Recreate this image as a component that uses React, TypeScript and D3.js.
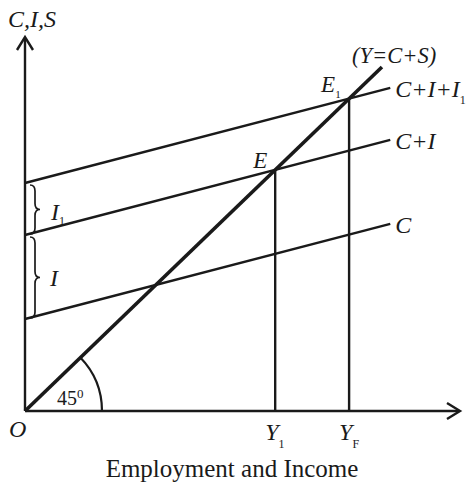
import React from "react";
import * as d3 from "d3";

// Data (model units)
const scheduleNames = ["C", "C+I", "C+I+I"];
const scheduleSubs = ["", "", "1"];
const intercepts = [23, 44, 57];
const mpc = 0.27;
const scheduleEnd = 88;
const diagonalEnd = 86;
const equilibriumLabels = ["E", "E"];
const equilibriumSubs = ["", "1"];
const incomeLabels = ["Y", "Y"];
const incomeSubs = ["1", "F"];
const braceLabels = ["I", "I"];
const braceSubs = ["1", ""];

const W = 470;
const H = 484;

export default function App() {
  const x = d3.scaleLinear().domain([0, 104.8]).range([25, 460]);
  const y = d3.scaleLinear().domain([0, 93.5]).range([411, 37]);
  const line = d3
    .line<[number, number]>()
    .x((d) => x(d[0]))
    .y((d) => y(d[1]));

  // equilibrium incomes for C+I and C+I+I1
  const eqX = [intercepts[1] / (1 - mpc), intercepts[2] / (1 - mpc)];

  const serif = "'Liberation Serif', 'Times New Roman', serif";
  const stroke = "#1a1a1a";

  const brace = (x0: number, y1: number, y2: number, w: number) => {
    const mid = (y1 + y2) / 2;
    const q = 6;
    const xm = x0 + w / 2;
    return `M${x0},${y1} Q${xm},${y1} ${xm},${y1 + q} L${xm},${mid - q} Q${xm},${mid} ${x0 + w},${mid} Q${xm},${mid} ${xm},${mid + q} L${xm},${y2 - q} Q${xm},${y2} ${x0},${y2}`;
  };

  const arcR = 77;
  const ox = x(0);
  const oy = y(0);
  const arcPath = `M${ox + arcR},${oy} A${arcR},${arcR} 0 0 0 ${ox + arcR * Math.cos(Math.PI / 4 * 0.985)},${oy - arcR * Math.sin(Math.PI / 4 * 0.985)}`;

  return (
    <svg
      width={W}
      height={H}
      style={{ position: "absolute", left: 0, top: 0, background: "#fff" }}
      fontFamily={serif}
    >
      {/* axes */}
      <line x1={x(0)} y1={y(0)} x2={x(0)} y2={y(93.5) + 1} stroke={stroke} strokeWidth={2.4} />
      <line x1={x(0)} y1={y(0)} x2={x(104.8) - 1} y2={y(0)} stroke={stroke} strokeWidth={2.4} />
      <path
        d={`M${x(0) - 8},${y(93.5) + 13} L${x(0)},${y(93.5)} L${x(0) + 8},${y(93.5) + 13}`}
        fill="none"
        stroke={stroke}
        strokeWidth={2.4}
      />
      <path
        d={`M${x(104.8) - 13},${y(0) - 8} L${x(104.8)},${y(0)} L${x(104.8) - 13},${y(0) + 8}`}
        fill="none"
        stroke={stroke}
        strokeWidth={2.4}
      />

      {/* schedules */}
      {intercepts.map((a, i) => (
        <path
          key={i}
          d={line([
            [0, a],
            [scheduleEnd, a + mpc * scheduleEnd],
          ]) as string}
          fill="none"
          stroke={stroke}
          strokeWidth={2.4}
        />
      ))}

      {/* 45 degree line */}
      <path
        d={line([
          [0, 0],
          [diagonalEnd, diagonalEnd],
        ]) as string}
        fill="none"
        stroke={stroke}
        strokeWidth={3.6}
      />

      {/* verticals */}
      {eqX.map((e, i) => (
        <line key={i} x1={x(e)} y1={y(e)} x2={x(e)} y2={y(0)} stroke={stroke} strokeWidth={2.4} />
      ))}

      {/* angle arc */}
      <path d={arcPath} fill="none" stroke={stroke} strokeWidth={2.2} />
      <text x={57} y={405} fontSize={20} fill={stroke}>
        45<tspan dy={-7} fontSize={13}>0</tspan>
      </text>

      {/* braces */}
      <path d={brace(30, y(intercepts[2]) + 2, y(intercepts[1]) - 1, 10)} fill="none" stroke={stroke} strokeWidth={1.7} />
      <path d={brace(30, y(intercepts[1]) + 2, y(intercepts[0]) - 1, 10)} fill="none" stroke={stroke} strokeWidth={1.7} />
      <text x={51} y={220} fontSize={24} fontStyle="italic" fill={stroke}>
        {braceLabels[0]}
        <tspan dy={5} fontSize={12} fontStyle="normal">{braceSubs[0]}</tspan>
      </text>
      <text x={50} y={286} fontSize={24} fontStyle="italic" fill={stroke}>
        {braceLabels[1]}
      </text>

      {/* schedule labels */}
      {scheduleNames.map((n, i) => (
        <text
          key={n}
          x={x(scheduleEnd) + 5}
          y={y(intercepts[i] + mpc * scheduleEnd) + 9}
          fontSize={24}
          fontStyle="italic"
          fill={stroke}
        >
          {n}
          {scheduleSubs[i] && (
            <tspan dy={7} fontSize={12} fontStyle="normal">{scheduleSubs[i]}</tspan>
          )}
        </text>
      ))}
      <text x={352} y={63} fontSize={22.5} fontStyle="italic" fill={stroke}>
        (Y=C+S)
      </text>

      {/* equilibrium labels */}
      {eqX.map((e, i) => (
        <text
          key={i}
          x={x(e) - (i === 0 ? 22 : 28)}
          y={y(e) - (i === 0 ? 2 : 7)}
          fontSize={23}
          fontStyle="italic"
          fill={stroke}
        >
          {equilibriumLabels[i]}
          {equilibriumSubs[i] && (
            <tspan dy={6} fontSize={11} fontStyle="normal">{equilibriumSubs[i]}</tspan>
          )}
        </text>
      ))}

      {/* x labels */}
      {eqX.map((e, i) => (
        <text key={i} x={x(e) - 10} y={440} fontSize={24} fontStyle="italic" fill={stroke}>
          {incomeLabels[i]}
          <tspan dy={8} fontSize={12} fontStyle="normal">{incomeSubs[i]}</tspan>
        </text>
      ))}
      <text x={9} y={437} fontSize={24} fontStyle="italic" fill={stroke}>O</text>
      <text x={8} y={27} fontSize={24} fontStyle="italic" fill={stroke}>C,I,S</text>
      <text x={232} y={477} fontSize={25} textAnchor="middle" fill={stroke}>
        Employment and Income
      </text>
    </svg>
  );
}
